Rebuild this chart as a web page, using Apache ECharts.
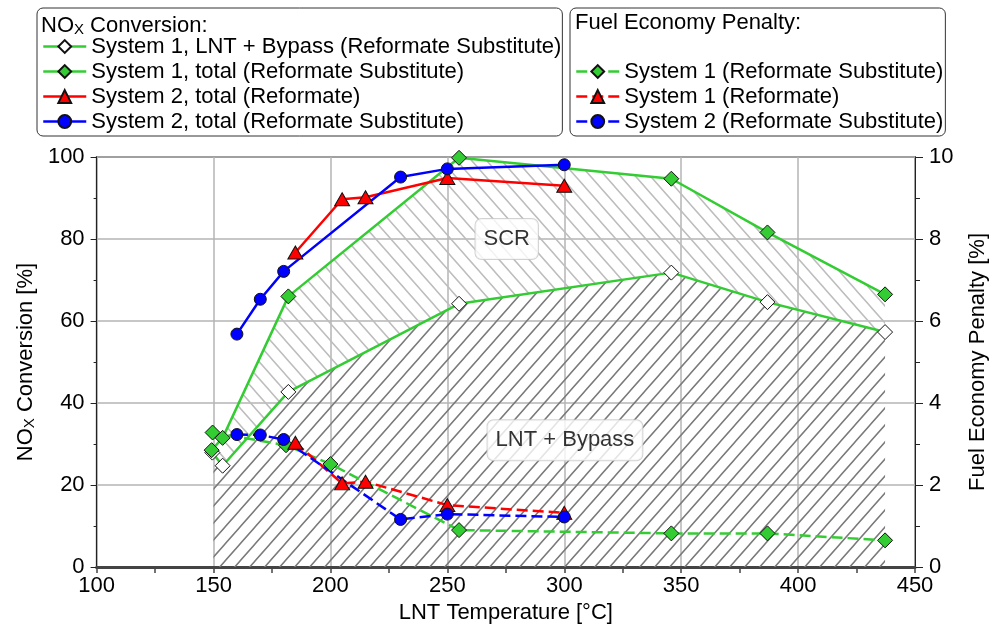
<!DOCTYPE html>
<html><head><meta charset="utf-8">
<script src="https://cdn.jsdelivr.net/npm/echarts@6/dist/echarts.min.js"></script>
<style>html,body{margin:0;padding:0;background:#fff}#c{width:1002px;height:634px}</style>
</head><body><div id="c"></div>
<script>
const FONT = '"Liberation Sans", Arial, sans-serif';

// ---- NOx conversion [%] (left axis) ----
const lntTemp   = [149.5, 153.9, 182, 255, 345.8, 386.9, 437.2];
const lntNox    = [27.9, 24.7, 42.7, 64.2, 71.8, 64.6, 57.3];
const s1TotTemp = [149.2, 153.9, 182, 255, 345.8, 386.9, 437.2];
const s1TotNox  = [28.5, 31.5, 66.0, 99.8, 94.7, 81.6, 66.5];
const s2RefTemp = [185, 205, 215, 250, 300];
const s2RefNox  = [76.7, 89.7, 90.2, 94.9, 93.0];
const s2SubTemp = [160, 170, 180, 230, 250, 300];
const s2SubNox  = [56.8, 65.3, 72.1, 95.1, 97.1, 98.1];

// ---- Fuel economy penalty [%] (right axis) ----
const fe1SubTemp = [149.6, 181, 200, 255, 345.8, 386.9, 437.2];
const fe1Sub     = [3.28, 2.97, 2.51, 0.90, 0.82, 0.82, 0.65];
const fe1RefTemp = [185, 205, 215, 250, 300];
const fe1Ref     = [3.03, 2.04, 2.08, 1.51, 1.32];
const fe2SubTemp = [160, 170, 180, 230, 250, 300];
const fe2Sub     = [3.23, 3.22, 3.11, 1.16, 1.29, 1.22];

// ---- axes ----
const xMin = 100, xMax = 450, xStep = 50;
const yMin = 0, yMax = 100, yStep = 20;
const y2Min = 0, y2Max = 10, y2Step = 2;

// ---- names ----
const noxNames = [
  'System 1, LNT + Bypass (Reformate Substitute)',
  'System 1, total (Reformate Substitute)',
  'System 2, total (Reformate)',
  'System 2, total (Reformate Substitute)'
];
const feNames = [
  'System 1 (Reformate Substitute)',
  'System 1 (Reformate)',
  'System 2 (Reformate Substitute)'
];
const regionLabels = ['SCR', 'LNT + Bypass'];
const hatchStart = 150;

const zip = (xs, ys) => xs.map((x, i) => [x, ys[i]]);

function hatch(color, slash) {
  const w = 15, h = 17;
  const c = document.createElement('canvas');
  c.width = w; c.height = h;
  const g = c.getContext('2d');
  g.strokeStyle = color; g.lineWidth = 1.5;
  g.beginPath();
  for (let k = -1; k <= 1; k++) {
    if (slash) { g.moveTo(-w, 2 * h + k * h); g.lineTo(2 * w, -h + k * h); }
    else { g.moveTo(-w, -h + k * h); g.lineTo(2 * w, 2 * h + k * h); }
  }
  g.stroke();
  return { image: c, repeat: 'repeat' };
}
const darkHatch = hatch('#7a7a7a', true);
const lightHatch = hatch('#bdbdbd', false);

function valueAt(xs, ys, x) {
  for (let i = 0; i < xs.length - 1; i++) {
    if (x >= xs[i] && x <= xs[i + 1]) {
      const t = (x - xs[i]) / (xs[i + 1] - xs[i]);
      return ys[i] + t * (ys[i + 1] - ys[i]);
    }
  }
  return ys[0];
}

// LNT + Bypass region (below LNT line)
const lntPts = zip(lntTemp, lntNox).filter(p => p[0] > hatchStart);
const lntPoly = [[hatchStart, 0], [hatchStart, valueAt(lntTemp, lntNox, hatchStart)]]
  .concat(lntPts, [[lntTemp[lntTemp.length - 1], 0]]);
// SCR region (between total and LNT line)
const totPts = zip(s1TotTemp, s1TotNox).filter(p => p[0] > hatchStart);
const scrPoly = [[hatchStart, valueAt(s1TotTemp, s1TotNox, hatchStart)]].concat(totPts,
  lntPts.slice().reverse(), [[hatchStart, valueAt(lntTemp, lntNox, hatchStart)]]);

const GREEN = '#33cc33', RED = '#ff0000', BLUE = '#0000ff';
const DASH = [11, 5];

function lineSeries(name, data, color, symbol, size, fill, yIdx, dashed) {
  return {
    name, type: 'line', data, yAxisIndex: yIdx, symbol, symbolSize: size,
    showAllSymbol: true, z: 3,
    lineStyle: { color, width: 2.5, type: dashed ? DASH : 'solid' },
    itemStyle: { color: fill, borderColor: '#111', borderWidth: 1 },
    emphasis: { disabled: true }
  };
}

function polySeries(poly, pattern) {
  return {
    type: 'custom', coordinateSystem: 'cartesian2d', silent: true, z: 1,
    data: [[hatchStart, 0]],
    renderItem: (params, api) => ({
      type: 'polygon',
      shape: { points: poly.map(p => api.coord(p)) },
      style: { fill: pattern, stroke: null }
    })
  };
}

const axisText = { fontSize: 22, color: '#000', fontFamily: FONT };

const option = {
  animation: false,
  textStyle: { fontFamily: FONT },
  grid: { left: 92, right: 87, top: 157, bottom: 67, show: true, borderColor: '#333', borderWidth: 1.5 },
  graphic: [
    { type: 'text', left: 41, top: 8, z: 100,
      style: { text: 'NO{sub|X} Conversion:', fill: '#000', font: '22px ' + FONT,
        rich: { sub: { fontSize: 15, fontFamily: FONT, lineHeight: 15, padding: [14, 0, 0, 0], verticalAlign: 'bottom', fill: '#000' } } } },
    { type: 'text', left: 575, top: 12, z: 100,
      style: { text: 'Fuel Economy Penalty:', fill: '#000', font: '22px ' + FONT } }
  ],
  legend: [
    { data: noxNames, left: 37, top: 8, orient: 'vertical', itemWidth: 43, itemHeight: 16, itemGap: 0,
      padding: [26, 1, 2, 5], borderColor: '#333', borderWidth: 1, borderRadius: 6, backgroundColor: '#fff',
      textStyle: { fontSize: 22, lineHeight: 25, color: '#000', fontFamily: FONT },
      lineStyle: { width: 2.5 }, selectedMode: false },
    { data: feNames, left: 570, top: 8, orient: 'vertical', itemWidth: 43, itemHeight: 16, itemGap: 0,
      padding: [51, 2, 2, 5], borderColor: '#333', borderWidth: 1, borderRadius: 6, backgroundColor: '#fff',
      textStyle: { fontSize: 22, lineHeight: 25, color: '#000', fontFamily: FONT },
      lineStyle: { width: 2.5 }, selectedMode: false }
  ],
  xAxis: {
    type: 'value', min: xMin, max: xMax, interval: xStep,
    name: 'LNT Temperature [°C]', nameLocation: 'middle', nameGap: 27, nameTextStyle: axisText,
    axisLine: { show: true, onZero: false, lineStyle: { color: '#444', width: 3 } },
    axisTick: { show: true, length: 6, lineStyle: { color: '#444', width: 1.5 } },
    minorTick: { show: true, splitNumber: 2, length: 6, lineStyle: { color: '#444', width: 1.5 } },
    axisLabel: Object.assign({ margin: 8 }, axisText),
    splitLine: { show: true, lineStyle: { color: '#b4b4b4', width: 1.5 } }
  },
  yAxis: [
    { type: 'value', min: yMin, max: yMax, interval: yStep, position: 'left',
      name: 'NO{sub|X} Conversion [%]', nameLocation: 'middle', nameGap: 52,
      nameTextStyle: Object.assign({ rich: { sub: { fontSize: 15, fontFamily: FONT, color: '#000', lineHeight: 15, padding: [14, 0, 0, 0], verticalAlign: 'bottom' } } }, axisText),
      axisLine: { show: true, lineStyle: { color: '#222', width: 1 } },
      axisTick: { show: true, length: 6, lineStyle: { color: '#222', width: 1 } },
      minorTick: { show: true, splitNumber: 2, length: 3, lineStyle: { color: '#222', width: 1 } },
      axisLabel: Object.assign({ margin: 12 }, axisText),
      splitLine: { show: true, lineStyle: { color: '#b4b4b4', width: 1.5 } } },
    { type: 'value', min: y2Min, max: y2Max, interval: y2Step, position: 'right',
      name: 'Fuel Economy Penalty [%]', nameLocation: 'middle', nameGap: 52, nameTextStyle: axisText,
      axisLine: { show: true, lineStyle: { color: '#222', width: 1 } },
      axisTick: { show: true, length: 8, lineStyle: { color: '#222', width: 1 } },
      minorTick: { show: true, splitNumber: 2, length: 5, lineStyle: { color: '#222', width: 1 } },
      axisLabel: Object.assign({ margin: 14 }, axisText),
      splitLine: { show: false } }
  ],
  series: [
    polySeries(lntPoly, darkHatch),
    polySeries(scrPoly, lightHatch),
    lineSeries(noxNames[0], zip(lntTemp, lntNox), GREEN, 'diamond', 15, '#ffffff', 0, false),
    lineSeries(noxNames[1], zip(s1TotTemp, s1TotNox), GREEN, 'diamond', 15, GREEN, 0, false),
    lineSeries(noxNames[2], zip(s2RefTemp, s2RefNox), RED, 'triangle', [15, 13], RED, 0, false),
    lineSeries(noxNames[3], zip(s2SubTemp, s2SubNox), BLUE, 'circle', 12, BLUE, 0, false),
    lineSeries(feNames[0], zip(fe1SubTemp, fe1Sub), GREEN, 'diamond', 15, GREEN, 1, true),
    lineSeries(feNames[1], zip(fe1RefTemp, fe1Ref), RED, 'triangle', [15, 13], RED, 1, true),
    lineSeries(feNames[2], zip(fe2SubTemp, fe2Sub), BLUE, 'circle', 12, BLUE, 1, true),
    { type: 'scatter', silent: true, z: 6, symbolSize: 1,
      itemStyle: { color: 'transparent' },
      data: [{ name: regionLabels[0], value: [275.4, 80] }, { name: regionLabels[1], value: [300.3, 30.9] }],
      label: { show: true, position: 'inside', formatter: '{b}', fontSize: 22, lineHeight: 22, color: '#000', fontFamily: FONT,
        backgroundColor: '#ffffff', borderColor: '#c8c8c8', borderWidth: 1, borderRadius: 6, padding: [9, 8, 9, 8] } }
  ]
};

echarts.init(document.getElementById('c'), null, { renderer: 'canvas' }).setOption(option);
</script></body></html>
